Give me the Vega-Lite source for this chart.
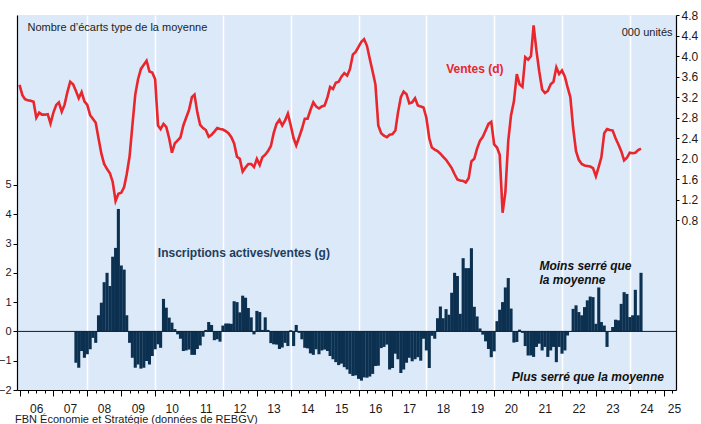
{
"$schema": "https://vega.github.io/schema/vega-lite/v6.json",
"width": 659, "height": 375,
"autosize": "none",
"padding": {"left": 17, "top": 15, "right": 25, "bottom": 34},
"background": "white",
"config": {
 "view": {"fill": "#dce9f9", "stroke": null},
 "font": "Liberation Sans",
 "axis": {"labelFont": "Liberation Sans", "titleFont": "Liberation Sans", "domainColor": "#000", "tickColor": "#000", "labelColor": "#1a1a1a", "domainWidth": 1.2},
 "text": {"font": "Liberation Sans"}
},
"title": {"text": "FBN Économie et Stratégie (données de REBGV)", "orient": "bottom", "anchor": "start", "frame": "group", "fontSize": 11, "fontWeight": "normal", "color": "#1a1a1a", "font": "Liberation Sans", "offset": 0, "dx": -2},
"data": {"values": [
{"date":"2006-01","ventes":3.44},{"date":"2006-02","ventes":3.24},{"date":"2006-03","ventes":3.16},{"date":"2006-04","ventes":3.14},{"date":"2006-05","ventes":3.13},{"date":"2006-06","ventes":3.11},{"date":"2006-07","ventes":2.80},{"date":"2006-08","ventes":2.90},{"date":"2006-09","ventes":2.86},{"date":"2006-10","ventes":2.86},{"date":"2006-11","ventes":2.87},{"date":"2006-12","ventes":2.69},
{"date":"2007-01","ventes":2.90},{"date":"2007-02","ventes":3.05},{"date":"2007-03","ventes":3.10},{"date":"2007-04","ventes":2.92},{"date":"2007-05","ventes":3.05},{"date":"2007-06","ventes":3.30},{"date":"2007-07","ventes":3.50},{"date":"2007-08","ventes":3.45},{"date":"2007-09","ventes":3.32,"ratio":-1.07},{"date":"2007-10","ventes":3.18,"ratio":-1.24},{"date":"2007-11","ventes":3.30,"ratio":-0.67},{"date":"2007-12","ventes":3.12,"ratio":-0.90},
{"date":"2008-01","ventes":3.05,"ratio":-0.78},{"date":"2008-02","ventes":2.85,"ratio":-0.61},{"date":"2008-03","ventes":2.78,"ratio":-0.22},{"date":"2008-04","ventes":2.70,"ratio":-0.39},{"date":"2008-05","ventes":2.40,"ratio":0.55},{"date":"2008-06","ventes":2.10,"ratio":0.98},{"date":"2008-07","ventes":1.90,"ratio":1.68},{"date":"2008-08","ventes":1.80,"ratio":2.0},{"date":"2008-09","ventes":1.72,"ratio":1.55},{"date":"2008-10","ventes":1.55,"ratio":2.55},{"date":"2008-11","ventes":1.18,"ratio":2.85},{"date":"2008-12","ventes":1.32,"ratio":4.18},
{"date":"2009-01","ventes":1.34,"ratio":2.25},{"date":"2009-02","ventes":1.45,"ratio":2.11},{"date":"2009-03","ventes":1.70,"ratio":0.55},{"date":"2009-04","ventes":2.05,"ratio":-0.39},{"date":"2009-05","ventes":2.65,"ratio":-0.9},{"date":"2009-06","ventes":3.25,"ratio":-1.24},{"date":"2009-07","ventes":3.55,"ratio":-1.13},{"date":"2009-08","ventes":3.75,"ratio":-1.27},{"date":"2009-09","ventes":3.83,"ratio":-1.24},{"date":"2009-10","ventes":3.91,"ratio":-1.01},{"date":"2009-11","ventes":3.70,"ratio":-1.13},{"date":"2009-12","ventes":3.68,"ratio":-0.84},
{"date":"2010-01","ventes":3.55,"ratio":-0.61},{"date":"2010-02","ventes":2.65,"ratio":-0.44},{"date":"2010-03","ventes":2.58,"ratio":-0.56},{"date":"2010-04","ventes":2.68,"ratio":1.11},{"date":"2010-05","ventes":2.62,"ratio":0.81},{"date":"2010-06","ventes":2.40,"ratio":0.47},{"date":"2010-07","ventes":2.12,"ratio":0.30},{"date":"2010-08","ventes":2.30,"ratio":0.08},{"date":"2010-09","ventes":2.36,"ratio":-0.10},{"date":"2010-10","ventes":2.42,"ratio":-0.25},{"date":"2010-11","ventes":2.65,"ratio":-0.67},{"date":"2010-12","ventes":2.80,"ratio":-0.65},
{"date":"2011-01","ventes":2.95,"ratio":-0.62},{"date":"2011-02","ventes":3.20,"ratio":-0.80},{"date":"2011-03","ventes":3.25,"ratio":-0.80},{"date":"2011-04","ventes":2.90,"ratio":-0.60},{"date":"2011-05","ventes":2.66,"ratio":-0.48},{"date":"2011-06","ventes":2.60,"ratio":-0.18},{"date":"2011-07","ventes":2.56,"ratio":0.05},{"date":"2011-08","ventes":2.43,"ratio":0.32},{"date":"2011-09","ventes":2.47,"ratio":0.22},{"date":"2011-10","ventes":2.53,"ratio":-0.30},{"date":"2011-11","ventes":2.60,"ratio":-0.27},{"date":"2011-12","ventes":2.58,"ratio":-0.35},
{"date":"2012-01","ventes":2.57,"ratio":0.20},{"date":"2012-02","ventes":2.54,"ratio":0.27},{"date":"2012-03","ventes":2.50,"ratio":0.27},{"date":"2012-04","ventes":2.42,"ratio":0.26},{"date":"2012-05","ventes":2.30,"ratio":1.03},{"date":"2012-06","ventes":2.04,"ratio":1.00},{"date":"2012-07","ventes":2.00,"ratio":0.65},{"date":"2012-08","ventes":1.75,"ratio":1.22},{"date":"2012-09","ventes":1.83,"ratio":1.15},{"date":"2012-10","ventes":1.90,"ratio":0.80},{"date":"2012-11","ventes":1.90,"ratio":0.48},{"date":"2012-12","ventes":1.84,"ratio":-0.10},
{"date":"2013-01","ventes":2.00,"ratio":0.70},{"date":"2013-02","ventes":1.88,"ratio":0.66},{"date":"2013-03","ventes":2.03,"ratio":0.05},{"date":"2013-04","ventes":2.08,"ratio":0.48},{"date":"2013-05","ventes":2.15,"ratio":0.05},{"date":"2013-06","ventes":2.25,"ratio":-0.40},{"date":"2013-07","ventes":2.50,"ratio":-0.44},{"date":"2013-08","ventes":2.68,"ratio":-0.45},{"date":"2013-09","ventes":2.76,"ratio":-0.60},{"date":"2013-10","ventes":2.65,"ratio":-0.55},{"date":"2013-11","ventes":2.75,"ratio":-0.39},{"date":"2013-12","ventes":2.88,"ratio":-0.50},
{"date":"2014-01","ventes":2.65,"ratio":0.04},{"date":"2014-02","ventes":2.40,"ratio":-0.50},{"date":"2014-03","ventes":2.26,"ratio":0.22},{"date":"2014-04","ventes":2.42,"ratio":-0.05},{"date":"2014-05","ventes":2.58,"ratio":-0.27},{"date":"2014-06","ventes":2.78,"ratio":-0.56},{"date":"2014-07","ventes":2.78,"ratio":-0.58},{"date":"2014-08","ventes":2.95,"ratio":-0.75},{"date":"2014-09","ventes":3.10,"ratio":-0.80},{"date":"2014-10","ventes":3.02,"ratio":-0.61},{"date":"2014-11","ventes":2.98,"ratio":-0.78},{"date":"2014-12","ventes":3.02,"ratio":-0.65},
{"date":"2015-01","ventes":3.04,"ratio":-0.62},{"date":"2015-02","ventes":3.20,"ratio":-0.67},{"date":"2015-03","ventes":3.40,"ratio":-0.84},{"date":"2015-04","ventes":3.36,"ratio":-0.95},{"date":"2015-05","ventes":3.48,"ratio":-1.05},{"date":"2015-06","ventes":3.50,"ratio":-1.15},{"date":"2015-07","ventes":3.60,"ratio":-1.10},{"date":"2015-08","ventes":3.67,"ratio":-1.22},{"date":"2015-09","ventes":3.62,"ratio":-1.30},{"date":"2015-10","ventes":3.75,"ratio":-1.45},{"date":"2015-11","ventes":4.03,"ratio":-1.52},{"date":"2015-12","ventes":4.08,"ratio":-1.50},
{"date":"2016-01","ventes":4.18,"ratio":-1.62},{"date":"2016-02","ventes":4.28,"ratio":-1.68},{"date":"2016-03","ventes":4.33,"ratio":-1.57},{"date":"2016-04","ventes":4.20,"ratio":-1.58},{"date":"2016-05","ventes":3.95,"ratio":-1.54},{"date":"2016-06","ventes":3.70,"ratio":-1.45},{"date":"2016-07","ventes":3.45,"ratio":-1.18},{"date":"2016-08","ventes":2.65,"ratio":-1.17},{"date":"2016-09","ventes":2.50,"ratio":-0.57},{"date":"2016-10","ventes":2.45,"ratio":-0.53},{"date":"2016-11","ventes":2.42,"ratio":-0.45},{"date":"2016-12","ventes":2.47,"ratio":-1.30},
{"date":"2017-01","ventes":2.48,"ratio":-1.25},{"date":"2017-02","ventes":2.55,"ratio":-0.76},{"date":"2017-03","ventes":2.90,"ratio":-0.95},{"date":"2017-04","ventes":3.20,"ratio":-1.42},{"date":"2017-05","ventes":3.31,"ratio":-1.30},{"date":"2017-06","ventes":3.26,"ratio":-1.07},{"date":"2017-07","ventes":3.08,"ratio":-0.90},{"date":"2017-08","ventes":3.10,"ratio":-1.02},{"date":"2017-09","ventes":3.18,"ratio":-0.95},{"date":"2017-10","ventes":3.04,"ratio":-0.88},{"date":"2017-11","ventes":3.02,"ratio":-1.00},{"date":"2017-12","ventes":3.00,"ratio":-0.25},
{"date":"2018-01","ventes":2.80,"ratio":-0.65},{"date":"2018-02","ventes":2.40,"ratio":-1.25},{"date":"2018-03","ventes":2.22,"ratio":-0.15},{"date":"2018-04","ventes":2.18,"ratio":-0.25},{"date":"2018-05","ventes":2.15,"ratio":0.45},{"date":"2018-06","ventes":2.10,"ratio":0.85},{"date":"2018-07","ventes":2.04,"ratio":0.45},{"date":"2018-08","ventes":1.98,"ratio":0.76},{"date":"2018-09","ventes":1.90,"ratio":0.57},{"date":"2018-10","ventes":1.82,"ratio":1.32},{"date":"2018-11","ventes":1.70,"ratio":2.00},{"date":"2018-12","ventes":1.60,"ratio":1.89},
{"date":"2019-01","ventes":1.58,"ratio":0.60},{"date":"2019-02","ventes":1.57,"ratio":2.50},{"date":"2019-03","ventes":1.54,"ratio":2.16},{"date":"2019-04","ventes":1.62,"ratio":2.16},{"date":"2019-05","ventes":1.95,"ratio":2.84},{"date":"2019-06","ventes":2.00,"ratio":0.84},{"date":"2019-07","ventes":2.20,"ratio":0.51},{"date":"2019-08","ventes":2.35,"ratio":0.10},{"date":"2019-09","ventes":2.43,"ratio":-0.11},{"date":"2019-10","ventes":2.55,"ratio":-0.34},{"date":"2019-11","ventes":2.68,"ratio":-0.60},{"date":"2019-12","ventes":2.72,"ratio":-0.88},
{"date":"2020-01","ventes":2.28,"ratio":-0.68},{"date":"2020-02","ventes":2.22,"ratio":0.35},{"date":"2020-03","ventes":2.08,"ratio":0.74},{"date":"2020-04","ventes":0.95,"ratio":1.00},{"date":"2020-05","ventes":1.35,"ratio":1.50},{"date":"2020-06","ventes":2.35,"ratio":1.82},{"date":"2020-07","ventes":2.85,"ratio":0.78},{"date":"2020-08","ventes":3.12,"ratio":-0.38},{"date":"2020-09","ventes":3.65,"ratio":-0.36},{"date":"2020-10","ventes":3.45,"ratio":0.06},{"date":"2020-11","ventes":3.40,"ratio":-0.05},{"date":"2020-12","ventes":3.98,"ratio":-0.50},
{"date":"2021-01","ventes":3.93,"ratio":-0.82},{"date":"2021-02","ventes":4.00,"ratio":-0.82},{"date":"2021-03","ventes":4.60,"ratio":-0.87},{"date":"2021-04","ventes":4.10,"ratio":-0.53},{"date":"2021-05","ventes":3.70,"ratio":-0.42},{"date":"2021-06","ventes":3.35,"ratio":-0.65},{"date":"2021-07","ventes":3.28,"ratio":-0.53},{"date":"2021-08","ventes":3.32,"ratio":-0.87},{"date":"2021-09","ventes":3.45,"ratio":-0.65},{"date":"2021-10","ventes":3.50,"ratio":-0.53},{"date":"2021-11","ventes":3.78,"ratio":-1.05},{"date":"2021-12","ventes":3.65,"ratio":-0.53},
{"date":"2022-01","ventes":3.72,"ratio":-0.76},{"date":"2022-02","ventes":3.60,"ratio":-0.65},{"date":"2022-03","ventes":3.40,"ratio":-0.14},{"date":"2022-04","ventes":3.20,"ratio":-0.02},{"date":"2022-05","ventes":2.60,"ratio":0.77},{"date":"2022-06","ventes":2.15,"ratio":0.89},{"date":"2022-07","ventes":1.98,"ratio":0.66},{"date":"2022-08","ventes":1.90,"ratio":0.55},{"date":"2022-09","ventes":1.87,"ratio":0.83},{"date":"2022-10","ventes":1.86,"ratio":1.06},{"date":"2022-11","ventes":1.85,"ratio":1.19},{"date":"2022-12","ventes":1.82,"ratio":1.17},
{"date":"2023-01","ventes":1.66,"ratio":0.26},{"date":"2023-02","ventes":1.85,"ratio":1.50},{"date":"2023-03","ventes":2.03,"ratio":0.32},{"date":"2023-04","ventes":2.50,"ratio":0.20},{"date":"2023-05","ventes":2.58,"ratio":-0.53},{"date":"2023-06","ventes":2.56,"ratio":-0.02},{"date":"2023-07","ventes":2.55,"ratio":0.15},{"date":"2023-08","ventes":2.40,"ratio":0.40},{"date":"2023-09","ventes":2.28,"ratio":0.38},{"date":"2023-10","ventes":2.15,"ratio":0.94},{"date":"2023-11","ventes":1.97,"ratio":1.34},{"date":"2023-12","ventes":2.02,"ratio":1.28},
{"date":"2024-01","ventes":2.12,"ratio":0.49},{"date":"2024-02","ventes":2.11,"ratio":0.55},{"date":"2024-03","ventes":2.12,"ratio":1.42},{"date":"2024-04","ventes":2.17,"ratio":0.55},{"date":"2024-05","ventes":2.20,"ratio":2.00}
]},
"layer": [
 {"layer": [
  {"mark": {"type": "bar", "width": 3.1, "color": "#0b3050"},
   "encoding": {
    "x": {"field": "date", "type": "temporal",
     "scale": {"type": "utc", "padding": 0, "nice": false, "domain": [{"year": 2005, "month": 12, "date": 5, "utc": true}, {"year": 2025, "month": 5, "date": 13, "utc": true}]},
     "axis": {"title": null, "orient": "bottom", "tickCount": {"interval": "year", "step": 1}, "labels": false, "ticks": true, "tickSize": 6, "domain": false, "grid": false}},
    "y": {"field": "ratio", "type": "quantitative", "stack": null,
     "scale": {"domain": [-2, 10.8], "nice": false, "zero": false},
     "axis": {"orient": "left", "values": [-2, -1, 0, 1, 2, 3, 4, 5], "grid": false, "tickSize": 4, "labelPadding": 2, "labelFontSize": 11,
      "title": "Nombre d’écarts type de la moyenne", "titleAngle": 0, "titleAlign": "left", "titleBaseline": "middle", "titleX": 10, "titleY": 12, "titleFontSize": 11, "titleFontWeight": "normal", "titleColor": "#222222"}}
   }},
  {"data": {"values": [{}]}, "mark": {"type": "rule", "color": "#1a1a1a", "strokeWidth": 1}, "encoding": {"y": {"datum": 0}}},
  {"data": {"values": [{}]}, "mark": {"type": "text", "text": "Inscriptions actives/ventes (g)", "align": "left", "baseline": "middle", "fontSize": 12, "fontWeight": "bold", "color": "#1f3d5c"},
   "encoding": {"x": {"datum": {"year": 2010, "month": 1, "date": 30, "utc": true}, "type": "temporal", "axis": null}, "y": {"datum": 2.69}}},
  {"data": {"values": [{}]}, "mark": {"type": "text", "text": "Ventes (d)", "align": "center", "baseline": "middle", "fontSize": 12, "fontWeight": "bold", "color": "#e8262c"},
   "encoding": {"x": {"datum": {"year": 2019, "month": 6, "date": 8, "utc": true}, "type": "temporal",
     "axis": {"title": null, "orient": "bottom", "values": [{"year":2008,"month":1,"date":1,"utc":true},{"year":2010,"month":1,"date":1,"utc":true},{"year":2012,"month":1,"date":1,"utc":true},{"year":2014,"month":1,"date":1,"utc":true},{"year":2016,"month":1,"date":1,"utc":true},{"year":2018,"month":1,"date":1,"utc":true},{"year":2020,"month":1,"date":1,"utc":true},{"year":2022,"month":1,"date":1,"utc":true},{"year":2024,"month":1,"date":1,"utc":true}],
      "labels": false, "ticks": false, "domain": false, "grid": true, "gridColor": "#ffffff", "gridWidth": 1.5, "gridOpacity": 1}},
    "y": {"datum": 8.97}}},
  {"data": {"values": [{}]}, "mark": {"type": "text", "text": ["Moins serré que", "la moyenne"], "lineHeight": 14, "align": "left", "baseline": "alphabetic", "fontSize": 12, "fontWeight": "bold", "fontStyle": "italic", "color": "#111111"},
   "encoding": {"x": {"datum": {"year": 2021, "month": 5, "date": 3, "utc": true}, "type": "temporal", "axis": null}, "y": {"datum": 2.10}}}
 ],
 "resolve": {"axis": {"x": "independent"}}},
 {"mark": {"type": "line", "color": "#e8262c", "strokeWidth": 2.6},
  "encoding": {
   "x": {"field": "date", "type": "temporal",
    "scale": {"type": "utc", "padding": 0, "nice": false, "domain": [{"year": 2005, "month": 12, "date": 5, "utc": true}, {"year": 2025, "month": 5, "date": 13, "utc": true}]},
    "axis": {"title": null, "orient": "bottom", "tickCount": {"interval": "month", "step": 3}, "labels": false, "ticks": true, "tickSize": 3, "domain": true, "grid": false}},
   "y": {"field": "ventes", "type": "quantitative",
    "scale": {"domain": [-2.5, 4.8], "nice": false, "zero": false},
    "axis": {"orient": "right", "values": [0.8, 1.2, 1.6, 2.0, 2.4, 2.8, 3.2, 3.6, 4.0, 4.4, 4.8], "format": ".1f", "grid": false, "tickSize": 3, "labelPadding": 2, "labelFontSize": 12,
     "title": "000 unités", "titleAngle": 0, "titleAlign": "right", "titleBaseline": "middle", "titleX": -4, "titleY": 17, "titleFontSize": 11, "titleFontWeight": "normal", "titleColor": "#222222"}}
  }},
 {"data": {"values": [{}]}, "mark": {"type": "text", "text": "Plus serré que la moyenne", "align": "left", "baseline": "middle", "fontSize": 12, "fontWeight": "bold", "fontStyle": "italic", "color": "#111111"},
  "encoding": {
   "x": {"datum": 20.52, "type": "quantitative",
    "scale": {"domain": [5.926, 25.362], "nice": false, "zero": false},
    "axis": {"title": null, "orient": "bottom", "values": [6.49, 7.49, 8.49, 9.49, 10.49, 11.49, 12.49, 13.49, 14.49, 15.49, 16.49, 17.49, 18.49, 19.49, 20.49, 21.49, 22.49, 23.49, 24.49, 25.3], "format": "02d",
     "ticks": false, "tickSize": 0, "domain": false, "grid": false, "labelOverlap": false, "labelFlush": false, "labelBound": false, "labelFontSize": 12, "labelPadding": 13}},
   "y": {"datum": -1.54, "scale": {"domain": [-2, 10.8], "nice": false, "zero": false}, "axis": null}}}
],
"resolve": {"scale": {"y": "independent", "x": "independent"}, "axis": {"y": "independent", "x": "independent"}}
}
